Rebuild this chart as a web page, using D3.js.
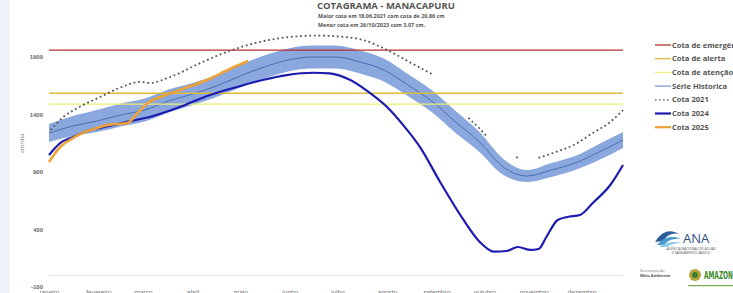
<!DOCTYPE html>
<html>
<head>
<meta charset="utf-8">
<script src="https://cdn.jsdelivr.net/npm/d3@7"></script>
<style>
  body { margin: 0; background: #fff; }
  svg { display: block; font-family: "Open Sans", "DejaVu Sans", sans-serif; }
</style>
</head>
<body>
<div id="container"></div>
<script>
// months (labels sit on the first day of each month)
const monthNames = ["janeiro", "fevereiro", "março", "abril", "maio", "junho", "julho", "agosto", "setembro", "outubro", "novembro", "dezembro"];
const monthStarts = [0, 31, 59, 90, 120, 151, 181, 212, 243, 273, 304, 334];
const yTicks = [-100, 400, 900, 1400, 1900];

// reference levels (cm)
const levelNames = ["Cota de emergência", "Cota de alerta", "Cota de atenção"];
const levelValues = [1960, 1585, 1490];

// historical series: median and envelope
const histDays = [0, 15, 30, 45, 60, 75, 90, 105, 120, 135, 150, 165, 180, 195, 210, 225, 240, 255, 270, 285, 300, 315, 330, 345, 360];
const histMedian = [1239, 1300, 1343, 1396, 1439, 1517, 1578, 1648, 1735, 1813, 1874, 1900, 1900, 1857, 1787, 1657, 1517, 1335, 1161, 943, 865, 917, 978, 1074, 1178];
const histUpper = [1317, 1387, 1439, 1496, 1539, 1617, 1674, 1744, 1835, 1913, 1974, 2000, 2000, 1957, 1887, 1753, 1613, 1431, 1248, 1013, 917, 978, 1039, 1144, 1248];
const histLower = [1161, 1213, 1247, 1296, 1339, 1417, 1482, 1552, 1635, 1713, 1774, 1800, 1800, 1757, 1687, 1561, 1421, 1239, 1074, 873, 813, 856, 917, 1004, 1108];

// Cota 2021 (gaps = missing readings)
const days2021 = [1, 9, 19, 32, 44, 57, 63, 76, 95, 113, 132, 151, 168, 182, 197, 212, 226, 240, 241, 263, 269, 275, 276, 293, 295, 296, 307, 316, 329, 341, 352, 360];
const cota2021 = [1265, 1378, 1465, 1552, 1630, 1683, 1674, 1726, 1848, 1952, 2030, 2074, 2086, 2078, 2048, 1961, 1857, 1752, null, 1370, 1291, 1204, null, 1030, 1022, null, 1022, 1065, 1135, 1239, 1335, 1439];

// Cota 2024
const days2024 = [0, 7, 15, 26, 38, 51, 63, 82, 101, 120, 134, 149, 166, 176, 189, 201, 212, 222, 233, 245, 260, 270, 279, 287, 294, 302, 307, 312, 319, 325, 333, 341, 352, 360];
const cota2024 = [1048, 1152, 1204, 1265, 1300, 1343, 1378, 1465, 1570, 1648, 1700, 1743, 1763, 1758, 1700, 1590, 1465, 1310, 1110, 820, 483, 294, 207, 213, 248, 222, 230, 337, 483, 509, 526, 630, 787, 961];

// Cota 2025
const days2025 = [0, 7, 13, 21, 32, 37, 45, 49, 56, 63, 68, 82, 99, 114, 125];
const cota2025 = [987, 1117, 1178, 1239, 1291, 1310, 1320, 1325, 1420, 1511, 1543, 1613, 1700, 1800, 1865];

const legendLabels = ["Cota de emergência", "Cota de alerta", "Cota de atenção", "Série Historica", "Cota 2021", "Cota 2024", "Cota 2025"];
const legendColors = ["#b5302e", "#dcbc3c", "#f1ec72", "#7d9bd3", "#555", "#1c1cb0", "#eda136"];

const width = 733, height = 293;
const svg = d3.select("#container").append("svg").attr("width", width).attr("height", height);

svg.append("rect").attr("x", 0).attr("y", 0).attr("width", 9).attr("height", height).attr("fill", "#edf2fa");

const x = d3.scaleLinear().domain([0, 365]).range([49, 631]);
const y = d3.scaleLinear().domain([-100, 1900]).range([287, 57]);
const xEnd = 623;

// title
const title = svg.append("g").attr("fill", "#555");
title.append("text").attr("x", 317).attr("y", 9).attr("font-size", 9.5).attr("font-weight", "bold").text("COTAGRAMA - MANACAPURU");
title.append("text").attr("x", 318).attr("y", 17.5).attr("font-size", 5.4).attr("font-weight", "bold").text("Maior cota em 18.06.2021 com cota de 20,86 cm");
title.append("text").attr("x", 318).attr("y", 26.5).attr("font-size", 5.4).attr("font-weight", "bold").text("Menor cota em 26/10/2023 com 3,07 cm.");

// axes
svg.append("line").attr("x1", x(0)).attr("x2", xEnd).attr("y1", y(0)).attr("y2", y(0)).attr("stroke", "#e6e6e6");

const yAxis = svg.append("g").attr("transform", `translate(${x(0)},0)`)
    .call(d3.axisLeft(y).tickValues(yTicks).tickFormat(d => String(d)).tickSize(0).tickPadding(6));
yAxis.select(".domain").remove();
yAxis.selectAll("text").attr("font-size", 6).attr("fill", "#666").attr("font-weight", "bold");

const xAxis = svg.append("g").attr("transform", `translate(0,${y(-100)})`)
    .call(d3.axisBottom(x).tickValues(monthStarts).tickFormat((d, i) => monthNames[i]).tickSize(0).tickPadding(3));
xAxis.select(".domain").remove();
xAxis.selectAll("text").attr("font-size", 6.5).attr("fill", "#777");

svg.append("text").attr("transform", `translate(24,${y(1150)}) rotate(-90)`)
    .attr("text-anchor", "middle").attr("font-size", 6).attr("fill", "#777").text("cm/dia");

// historical envelope
const hist = histDays.map((d, i) => ({ day: d, med: histMedian[i], hi: histUpper[i], lo: histLower[i] }));
svg.append("path").datum(hist)
    .attr("d", d3.area().x(d => x(d.day)).y0(d => y(d.lo)).y1(d => y(d.hi)).curve(d3.curveMonotoneX))
    .attr("fill", "#8aa7de");
svg.append("path").datum(hist)
    .attr("d", d3.line().x(d => x(d.day)).y(d => y(d.med)).curve(d3.curveMonotoneX))
    .attr("fill", "none").attr("stroke", "#4268ab").attr("stroke-width", 0.9);

// reference levels
svg.selectAll("line.level").data(levelValues).enter().append("line")
    .attr("class", "level")
    .attr("x1", x(0)).attr("x2", xEnd)
    .attr("y1", d => y(d)).attr("y2", d => y(d))
    .attr("stroke", (d, i) => legendColors[i]).attr("stroke-width", 1.3);

const line = d3.line().defined(d => d.v !== null).x(d => x(d.day)).y(d => y(d.v)).curve(d3.curveMonotoneX);

// cota 2021
svg.append("path").datum(days2021.map((d, i) => ({ day: d, v: cota2021[i] })))
    .attr("d", line).attr("fill", "none").attr("stroke", "#555")
    .attr("stroke-width", 1.8).attr("stroke-dasharray", "1.8,2.8");

// cota 2024
svg.append("path").datum(days2024.map((d, i) => ({ day: d, v: cota2024[i] })))
    .attr("d", line).attr("fill", "none").attr("stroke", "#1c1cb0").attr("stroke-width", 2.2);

// cota 2025
svg.append("path").datum(days2025.map((d, i) => ({ day: d, v: cota2025[i] })))
    .attr("d", line).attr("fill", "none").attr("stroke", "#eda136").attr("stroke-width", 2.6);

// legend
const legend = svg.append("g").attr("transform", "translate(655,45)");
const items = legend.selectAll("g").data(legendLabels).enter().append("g")
    .attr("transform", (d, i) => `translate(0,${i * 13.7})`);
items.append("line").attr("x1", 0).attr("x2", 16).attr("y1", 0).attr("y2", 0)
    .attr("stroke", (d, i) => legendColors[i])
    .attr("stroke-width", (d, i) => i >= 5 ? 2.2 : 1.3)
    .attr("stroke-dasharray", (d, i) => i === 4 ? "1.6,2.4" : null);
items.append("text").attr("x", 17).attr("y", 0).attr("dy", "0.35em")
    .attr("font-size", 7.6).attr("fill", "#555").attr("font-weight", "bold").text(d => d);

// logos
const ana = svg.append("g").attr("transform", "translate(655,226)");
ana.append("path").attr("d", "M0,16 C6,6 14,2 24,8 C18,6 12,9 8,15 Z").attr("fill", "#2b5d9a");
ana.append("path").attr("d", "M2,19 C9,11 17,9 26,13 C19,12 13,14 9,19 Z").attr("fill", "#4c9bd0");
ana.append("path").attr("d", "M4,21 C11,16 19,15 27,17 C20,17 15,19 12,21 Z").attr("fill", "#8ccbe8");
ana.append("text").attr("x", 28).attr("y", 17).attr("font-size", 13).attr("fill", "#2f4f7f").text("ANA");
ana.append("text").attr("x", 36).attr("y", 24).attr("text-anchor", "middle").attr("font-size", 3.4).attr("fill", "#555").text("AGÊNCIA NACIONAL DE ÁGUAS");
ana.append("text").attr("x", 36).attr("y", 28).attr("text-anchor", "middle").attr("font-size", 3.4).attr("fill", "#555").text("E SANEAMENTO BÁSICO");

const sema = svg.append("g").attr("transform", "translate(640,272)");
sema.append("text").attr("x", 0).attr("y", 0).attr("font-size", 4).attr("fill", "#666").text("Secretaria do");
sema.append("text").attr("x", 0).attr("y", 5).attr("font-size", 4).attr("font-weight", "bold").attr("fill", "#555").text("Meio Ambiente");

const amz = svg.append("g").attr("transform", "translate(688,267)");
amz.append("circle").attr("cx", 7).attr("cy", 8).attr("r", 6).attr("fill", "#b7a43a");
amz.append("circle").attr("cx", 7).attr("cy", 8).attr("r", 3).attr("fill", "#3d7d2e");
amz.append("text").attr("x", 16).attr("y", 12).attr("font-size", 10).attr("font-weight", "bold")
    .attr("textLength", 29).attr("lengthAdjust", "spacingAndGlyphs")
    .attr("fill", "#3b8a2c").attr("font-family", "'Liberation Sans Narrow', 'DejaVu Sans Condensed', sans-serif").text("AMAZON");
amz.append("rect").attr("x", 0).attr("y", 18).attr("width", 45).attr("height", 1.2).attr("fill", "#7aa84a");
</script>
</body>
</html>
